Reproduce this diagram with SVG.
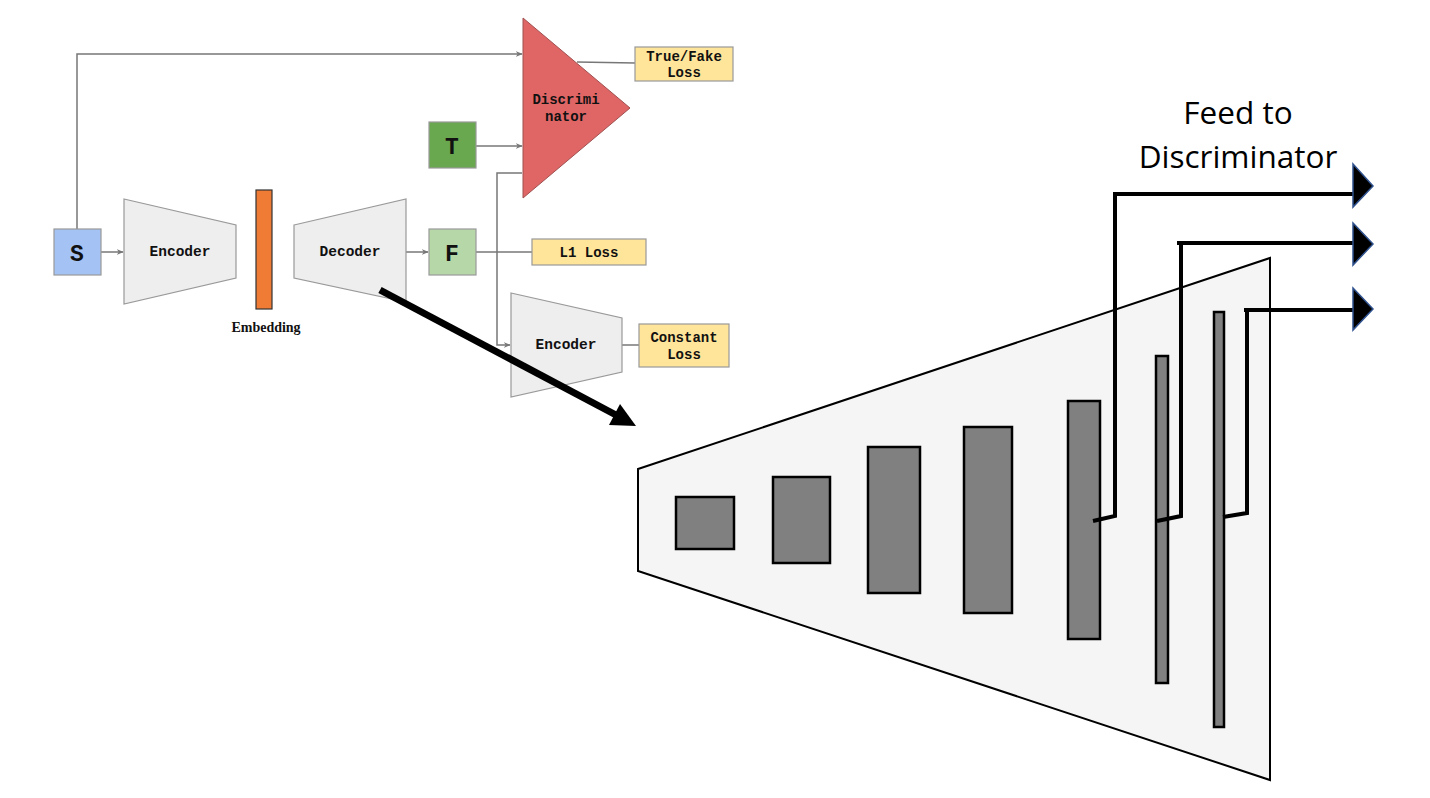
<svg xmlns="http://www.w3.org/2000/svg" width="1430" height="798" viewBox="0 0 1430 798">
<defs>
<style>
.mono{font-family:"Liberation Mono","Courier New",monospace;font-weight:bold;fill:#111;text-anchor:middle}
.conn{stroke:#777;stroke-width:1.5;fill:none}
.trap{fill:#eeeeee;stroke:#999;stroke-width:1.2}
.box{stroke:#999;stroke-width:1.2}
.blk{fill:#808080;stroke:#000;stroke-width:2.5}
.feed{stroke:#000;stroke-width:4;fill:none}
.tri{fill:#000;stroke:#2f528f;stroke-width:1.5}
</style>
<marker id="ga" viewBox="0 0 10 10" refX="9" refY="5" markerWidth="7" markerHeight="7" markerUnits="userSpaceOnUse" orient="auto">
<path d="M0,1 L10,5 L0,9 L3,5 z" fill="#777"/>
</marker>
</defs>
<rect width="1430" height="798" fill="#fff"/>

<g id="connectors">
<polyline class="conn" points="77,229 77,54 522,54" marker-end="url(#ga)"/>
<line class="conn" x1="101" y1="252" x2="123" y2="252" marker-end="url(#ga)"/>
<line class="conn" x1="406" y1="252" x2="428" y2="252" marker-end="url(#ga)"/>
<line class="conn" x1="476" y1="146" x2="522" y2="146" marker-end="url(#ga)"/>
<line class="conn" x1="476" y1="252" x2="532" y2="252"/>
<polyline class="conn" points="522,173 497,173 497,345 510,345" marker-end="url(#ga)"/>
<line class="conn" x1="577" y1="62" x2="635" y2="63"/>
<line class="conn" x1="622" y1="345" x2="639" y2="345"/>
</g>

<g id="S"><rect class="box" x="54" y="229" width="47" height="46" fill="#a4c2f4"/><text class="mono" x="77" y="261" font-size="23">S</text></g>
<g id="encoder1"><polygon class="trap" points="124,199 236,225 236,278 124,304"/><text class="mono" x="180" y="256" font-size="14.5">Encoder</text></g>
<g id="embedding"><rect x="256" y="190" width="16" height="119" fill="#f07b35" stroke="#333" stroke-width="1.2"/><text x="266" y="332" font-family="Liberation Serif, serif" font-weight="bold" font-size="14" text-anchor="middle" fill="#111">Embedding</text></g>
<g id="decoder"><polygon class="trap" points="294,225 406,199 406,302 294,278"/><text class="mono" x="350" y="256" font-size="14.5">Decoder</text></g>
<g id="F"><rect class="box" x="429" y="229" width="47" height="46" fill="#b6d7a8"/><text class="mono" x="452" y="261" font-size="23">F</text></g>
<g id="T"><rect class="box" x="429" y="122" width="47" height="46" fill="#6aa84f"/><text class="mono" x="452" y="154" font-size="23">T</text></g>
<g id="discriminator"><polygon points="523,18 630,108 523,198" fill="#e06666" stroke="#a05050" stroke-width="1"/><text class="mono" x="566" y="104" font-size="14">Discrimi</text><text class="mono" x="566" y="121" font-size="14">nator</text></g>
<g id="truefake"><rect class="box" x="635" y="47" width="98" height="34" fill="#ffe599"/><text class="mono" x="684" y="61" font-size="14">True/Fake</text><text class="mono" x="684" y="77" font-size="14">Loss</text></g>
<g id="l1loss"><rect class="box" x="532" y="239" width="114" height="26" fill="#ffe599"/><text class="mono" x="589" y="257" font-size="14">L1 Loss</text></g>
<g id="encoder2"><polygon class="trap" points="511,293 622,318 622,372 511,397"/><text class="mono" x="566" y="349" font-size="14.5">Encoder</text></g>
<g id="constloss"><rect class="box" x="639" y="324" width="90" height="43" fill="#ffe599"/><text class="mono" x="684" y="342" font-size="14">Constant</text><text class="mono" x="684" y="359" font-size="14">Loss</text></g>

<g id="zoom-arrow">
<line x1="380" y1="290" x2="616" y2="415" stroke="#000" stroke-width="7"/>
<polygon points="636,426 609,425 620,404" fill="#000"/>
</g>

<g id="decoder-detail">
<polygon points="638,469 1270,258 1270,780 638,571" fill="#f5f5f5" stroke="#000" stroke-width="2"/>
<rect class="blk" x="676" y="497" width="58" height="52"/>
<rect class="blk" x="773" y="477" width="57" height="86"/>
<rect class="blk" x="868" y="447" width="52" height="146"/>
<rect class="blk" x="964" y="427" width="48" height="186"/>
<rect class="blk" x="1068" y="401" width="32" height="238"/>
<rect class="blk" x="1156" y="356" width="12" height="327"/>
<rect class="blk" x="1214" y="312" width="10" height="415"/>
</g>

<g id="feed-lines">
<polyline class="feed" points="1093,521 1115,516 1115,194 1354,194"/>
<polyline class="feed" points="1157,521 1181,516 1181,243 1177,243 1354,243"/>
<polyline class="feed" points="1223,517 1247,513 1247,310 1244,310 1354,310"/>
<polygon class="tri" points="1353,164 1373,186 1353,207"/>
<polygon class="tri" points="1353,223 1373,244 1353,265"/>
<polygon class="tri" points="1353,288 1373,309 1353,330"/>
<text x="1238" y="124" font-family="Open Sans, Liberation Sans, sans-serif" font-size="31.5" text-anchor="middle" fill="#000">Feed to</text>
<text x="1238" y="168" font-family="Open Sans, Liberation Sans, sans-serif" font-size="31.5" text-anchor="middle" fill="#000">Discriminator</text>
</g>
</svg>
